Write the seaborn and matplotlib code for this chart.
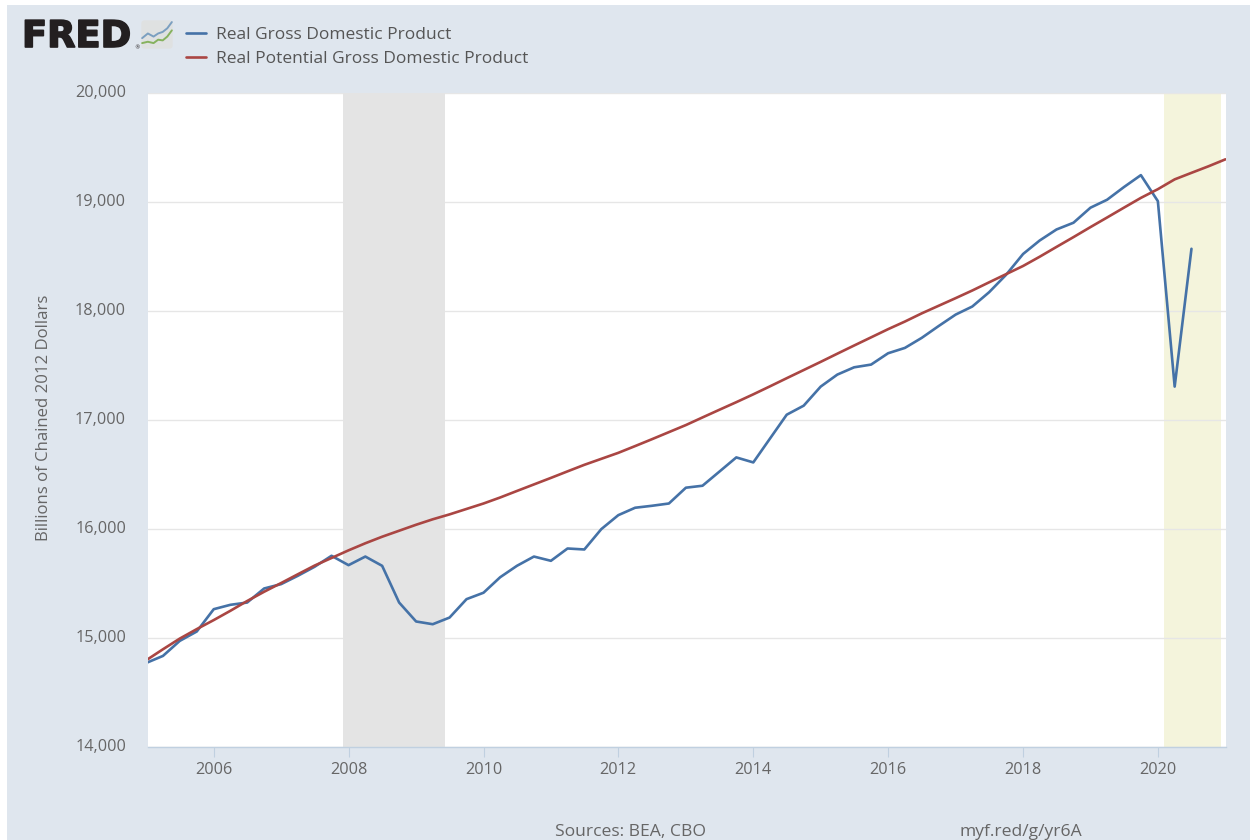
import pandas as pd
import numpy as np
import seaborn as sns
import matplotlib.pyplot as plt
import matplotlib.dates as mdates
import matplotlib.patheffects as pe
from matplotlib.patches import Rectangle, FancyBboxPatch
from matplotlib.ticker import FuncFormatter
from matplotlib.transforms import ScaledTranslation

gdp = [14772, 14836, 14974, 15060,
       15265, 15305, 15326, 15455,
       15495, 15571, 15654, 15755,
       15669, 15748, 15663, 15326,
       15152, 15127, 15188, 15357,
       15416, 15558, 15663, 15748,
       15709, 15822, 15813, 16000,
       16128, 16196, 16214, 16235,
       16380, 16398, 16527, 16658,
       16612, 16830, 17050, 17133,
       17308, 17418, 17485, 17510,
       17614, 17663, 17755, 17864,
       17969, 18043, 18174, 18334,
       18525, 18649, 18750, 18812,
       18950, 19023, 19139, 19249,
       19010, 17308, 18573]

potential = [14797, 14897, 14995, 15082,
             15165, 15250, 15340, 15425,
             15505, 15585, 15665, 15735,
             15805, 15870, 15930, 15985,
             16040, 16090, 16135, 16185,
             16235, 16290, 16350, 16410,
             16470, 16530, 16590, 16645,
             16700, 16762, 16825, 16890,
             16955, 17025, 17095, 17165,
             17237, 17310, 17385, 17460,
             17535, 17610, 17685, 17760,
             17835, 17905, 17980, 18050,
             18120, 18190, 18265, 18340,
             18415, 18500, 18590, 18680,
             18772, 18860, 18950, 19040,
             19120, 19210, 19270, 19330,
             19394]

gdp_name = 'Real Gross Domestic Product'
potential_name = 'Real Potential Gross Domestic Product'
y_ticks = [14000, 15000, 16000, 17000, 18000, 19000, 20000]
recession = ['2007-12-04', '2009-06-04']
covid_band = ['2020-02-01', '2020-12-10']

# little chart in the logo
icon_x = [1, 6, 11, 15, 19, 23, 27]
icon_blue = [10.5, 15, 12, 15, 16.5, 20, 26]
icon_green = [5.7, 7, 5.7, 9, 8.3, 12, 18]

BG = '#dfe6ee'
TXT = '#666666'
BLUE = '#4572a7'
RED = '#aa4643'
AXIS = '#c0d0e0'
W, H = 1250, 840

sns.set_theme(style='white')
plt.rcParams['font.family'] = ['Open Sans', 'DejaVu Sans']

dates_pot = pd.date_range('2005-01-01', periods=len(potential), freq='QS')
dates_gdp = dates_pot[:len(gdp)]
df = pd.concat([
    pd.DataFrame({'date': dates_gdp, 'value': gdp, 'series': gdp_name}),
    pd.DataFrame({'date': dates_pot, 'value': potential, 'series': potential_name}),
])

fig = plt.figure(figsize=(W / 100, H / 100), dpi=100, facecolor='white')
fig.patches.append(Rectangle((7 / W, 0), 1 - 7 / W, 1 - 5 / H, transform=fig.transFigure, facecolor=BG, edgecolor='none', zorder=-1))

ax = fig.add_axes([148 / W, 1 - 747 / H, (1226 - 148) / W, (747 - 93.3) / H])
ax.set_facecolor('white')

ax.axvspan(pd.Timestamp(covid_band[0]), pd.Timestamp(covid_band[1]), color='#f4f4dc', lw=0, zorder=0.2)
ax.axvspan(pd.Timestamp(recession[0]), pd.Timestamp(recession[1]), color='#e4e4e4', lw=0, zorder=1)

sns.lineplot(data=df, x='date', y='value', hue='series', palette={gdp_name: BLUE, potential_name: RED},
             linewidth=1.9, ax=ax, zorder=3)

ax.set_xlim(pd.Timestamp('2005-01-10'), pd.Timestamp('2021-01-04'))
ax.set_ylim(14000, 20000)
ax.set_yticks(y_ticks)
ax.yaxis.set_major_formatter(FuncFormatter(lambda v, p: f'{int(v):,}'))
ax.xaxis.set_major_locator(mdates.YearLocator(2))
ax.xaxis.set_major_formatter(mdates.DateFormatter('%Y'))
ax.set_xlabel('')
ax.set_ylabel('Billions of Chained 2012 Dollars', fontsize=12.1, color=TXT, labelpad=0)
ax.yaxis.set_label_coords((52 - 148) / (1226 - 148), 0.503)

ax.grid(axis='y', color='#e6e6e6', lw=1)
ax.set_axisbelow(True)
for s in ['top', 'right', 'left']:
    ax.spines[s].set_visible(False)
ax.spines['bottom'].set_color(AXIS)
ax.spines['bottom'].set_linewidth(1)
ax.tick_params(axis='x', length=7.2, width=0.8, color=AXIS, labelcolor=TXT, labelsize=11.7, pad=3.5, bottom=True)
ax.tick_params(axis='y', length=0, labelcolor=TXT, labelsize=11.7, pad=15.8)
for lab in ax.get_yticklabels():
    lab.set_transform(lab.get_transform() + ScaledTranslation(0, 1.5 / 72, fig.dpi_scale_trans))

handles, labels = ax.get_legend_handles_labels()
ax.get_legend().remove()
fig.legend(handles, labels, loc='upper left', bbox_to_anchor=(186 / W, 1 - 27 / H), bbox_transform=fig.transFigure,
           frameon=False, fontsize=12.5, labelcolor='#555555', handlelength=1.15, handletextpad=0.57,
           labelspacing=0.45, borderpad=0, borderaxespad=0)

# logo
logo = fig.text(22 / W, 1 - 47 / H, 'FRED', fontsize=26.5, fontweight='bold', family='DejaVu Sans', color='#231f20', va='baseline')
logo.set_path_effects([pe.withStroke(linewidth=1.2, foreground='#231f20')])
fig.text(134 / W, 1 - 49 / H, '®', fontsize=4, color='#231f20', family='DejaVu Sans')

icon = fig.add_axes([141 / W, 1 - 49 / H, 32 / W, 29 / H])
icon.axis('off')
icon.set_xlim(0, 28)
icon.set_ylim(0, 28)
icon.add_patch(FancyBboxPatch((0.3, 0.3), 27.4, 27.4, boxstyle='round,pad=0,rounding_size=3', facecolor='#dfe1e1', edgecolor='none'))
icon.plot(icon_x, icon_blue, color='#7b9fc0', lw=1.4)
icon.plot(icon_x, icon_green, color='#86b25f', lw=1.4)

fig.text(630.5 / W, 1 - 832 / H, 'Sources: BEA, CBO', fontsize=12.6, color=TXT, ha='center', va='center')
fig.text(1020.5 / W, 1 - 832 / H, 'myf.red/g/yr6A', fontsize=12.6, color=TXT, ha='center', va='center')

fig.savefig('out.png', dpi=100, facecolor=fig.get_facecolor())
